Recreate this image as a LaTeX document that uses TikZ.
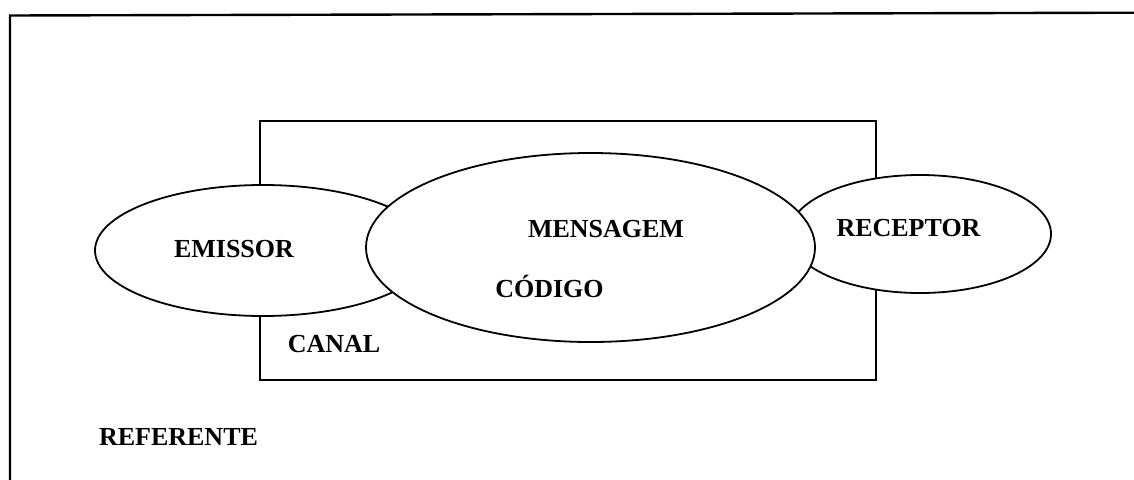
\documentclass[tikz,border=0pt]{standalone}
\usepackage{fontspec}
\setmainfont{Liberation Serif}
\usetikzlibrary{shapes.geometric}

\tikzset{
  frameline/.style={line width=2.4pt, line cap=rect},
  canalbox/.style={line width=2pt},
  blob/.style={ellipse, draw, line width=1.8pt, fill=white, inner sep=0pt, outer sep=0pt},
  lbl/.style={anchor=base, inner sep=0pt, font=\fontsize{26}{30}\selectfont\bfseries}
}

\begin{document}
\begin{tikzpicture}[x=1pt, y=-1pt]
  \useasboundingbox (0,0) rectangle (1134,479);

  % outer frame (top and left edges only)
  \coordinate (fbl) at (10,479);
  \coordinate (ftl) at (10,15.5);
  \coordinate (ftr) at (1134,12.7);
  \draw[frameline] (fbl) -- (ftl) -- (ftr);

  % channel box
  \node[draw, canalbox, minimum width=616pt, minimum height=259pt, inner sep=0pt] (canal) at (568,250) {};

  % participants
  \node[blob, minimum width=336pt, minimum height=131pt] (emissor) at (263,250.5) {};
  \node[blob, minimum width=262pt, minimum height=118pt] (receptor) at (920,234) {};
  \node[blob, minimum width=449pt, minimum height=189pt] (mensagem) at (590.5,247.5) {};

  % labels
  \node[lbl] (temissor) at (234,257) {EMISSOR};
  \node[lbl] (tmensagem) at (606,237) {MENSAGEM};
  \node[lbl] (tcodigo) at (549.5,297) {CÓDIGO};
  \node[lbl] (treceptor) at (908.5,236) {RECEPTOR};
  \node[lbl] (tcanal) at (334,352) {CANAL};
  \node[lbl] (treferente) at (178.5,445.5) {REFERENTE};
\end{tikzpicture}
\end{document}
